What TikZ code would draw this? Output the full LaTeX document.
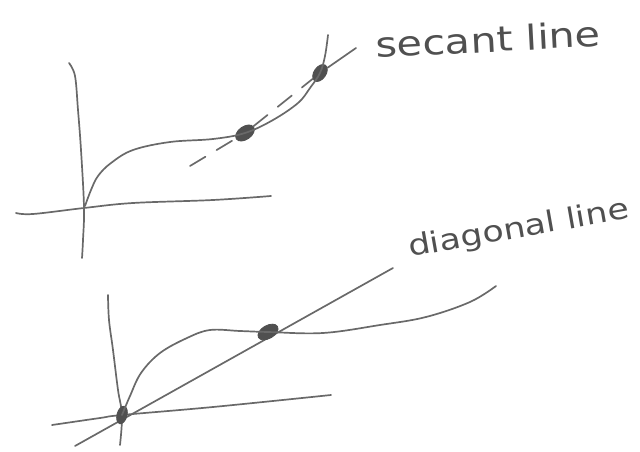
\documentclass[tikz,border=0pt]{standalone}
\usepackage{fontspec}
\newfontfamily\handfont[FakeStretch=1.2]{DejaVu Sans}
\definecolor{pencil}{RGB}{105,105,105}
\definecolor{pencildark}{RGB}{80,80,80}
\usetikzlibrary{shapes.geometric,calc}

\begin{document}
\begin{tikzpicture}[x=1pt,y=-1pt,
  pencilline/.style={draw=pencil,line width=1.7pt,line cap=round,line join=round},
  pencildot/.style={ellipse,fill=pencildark,draw=pencildark,line width=0.8pt,inner sep=0pt},
  handlabel/.style={anchor=base west,inner sep=0pt,text=pencildark}
]
  \useasboundingbox (0,0) rectangle (640,452);

  % Top: axes
  \coordinate (tyTop) at (69,63);
  \coordinate (tyBot) at (82,258);
  \coordinate (txLeft) at (16,213);
  \coordinate (txRight) at (271,196);
  \draw[pencilline] plot[smooth,tension=0.6] coordinates {(tyTop) (75,76) (78,110) (81,150) (84,207) (83,240) (tyBot)};
  \draw[pencilline] plot[smooth,tension=0.6] coordinates {(txLeft) (33,214) (84,208) (133,203) (213,200) (txRight)};

  % Top: secant points
  \node[pencildot,minimum width=21pt,minimum height=13pt,rotate=35] (sd1) at (245,133) {};
  \node[pencildot,minimum width=19pt,minimum height=12pt,rotate=55] (sd2) at (320,73) {};

  % Top: curve
  \draw[pencilline] plot[smooth,tension=0.6] coordinates {(85,206) (91,190) (98,176) (111,163) (133,150) (170,142) (213,139) (sd1.center) (273,120) (298,103) (310,88) (sd2.center) (325,56) (328,35)};

  % Top: secant line
  \coordinate (ssA) at (190,166);
  \coordinate (ssB) at (356,48);
  \draw[pencilline,dash pattern=on 18pt off 13pt] (ssA) -- (sd1) -- (sd2);
  \draw[pencilline] (sd2) -- (ssB);
  \node[handlabel,font=\handfont\fontsize{34.5}{36}\selectfont,rotate=3] (secantlbl) at (376,58) {secant line};

  % Bottom: axes
  \coordinate (byTop) at (108,295);
  \coordinate (byBot) at (120,445);
  \coordinate (bxLeft) at (52,425);
  \coordinate (bxRight) at (331,395);
  \draw[pencilline] plot[smooth,tension=0.6] coordinates {(byTop) (109,320) (113,350) (118,390) (122,415) (byBot)};
  \draw[pencilline] plot[smooth,tension=0.6] coordinates {(bxLeft) (100,418) (122,415) (213,407) (bxRight)};

  % Bottom: diagonal line
  \coordinate (bdA) at (75,446);
  \coordinate (bdB) at (393,268);
  \draw[pencilline] (bdA) -- (bdB);

  % Bottom: crossing points
  \node[pencildot,minimum width=18pt,minimum height=10pt,rotate=75] (bd1) at (122,415) {};
  \node[pencildot,minimum width=22pt,minimum height=13pt,rotate=30] (bd2) at (268,332) {};

  % Bottom: curve
  \draw[pencilline] plot[smooth,tension=0.6] coordinates {(bd1.center) (130,396) (141,373) (160,353) (187,338) (210,330) (240,331) (bd2.center) (323,333) (380,325) (426,317) (470,302) (496,286)};
  \node[handlabel,font=\handfont\fontsize{29}{31}\selectfont,rotate=10] (diaglbl) at (410,257) {diagonal line};
\end{tikzpicture}
\end{document}
